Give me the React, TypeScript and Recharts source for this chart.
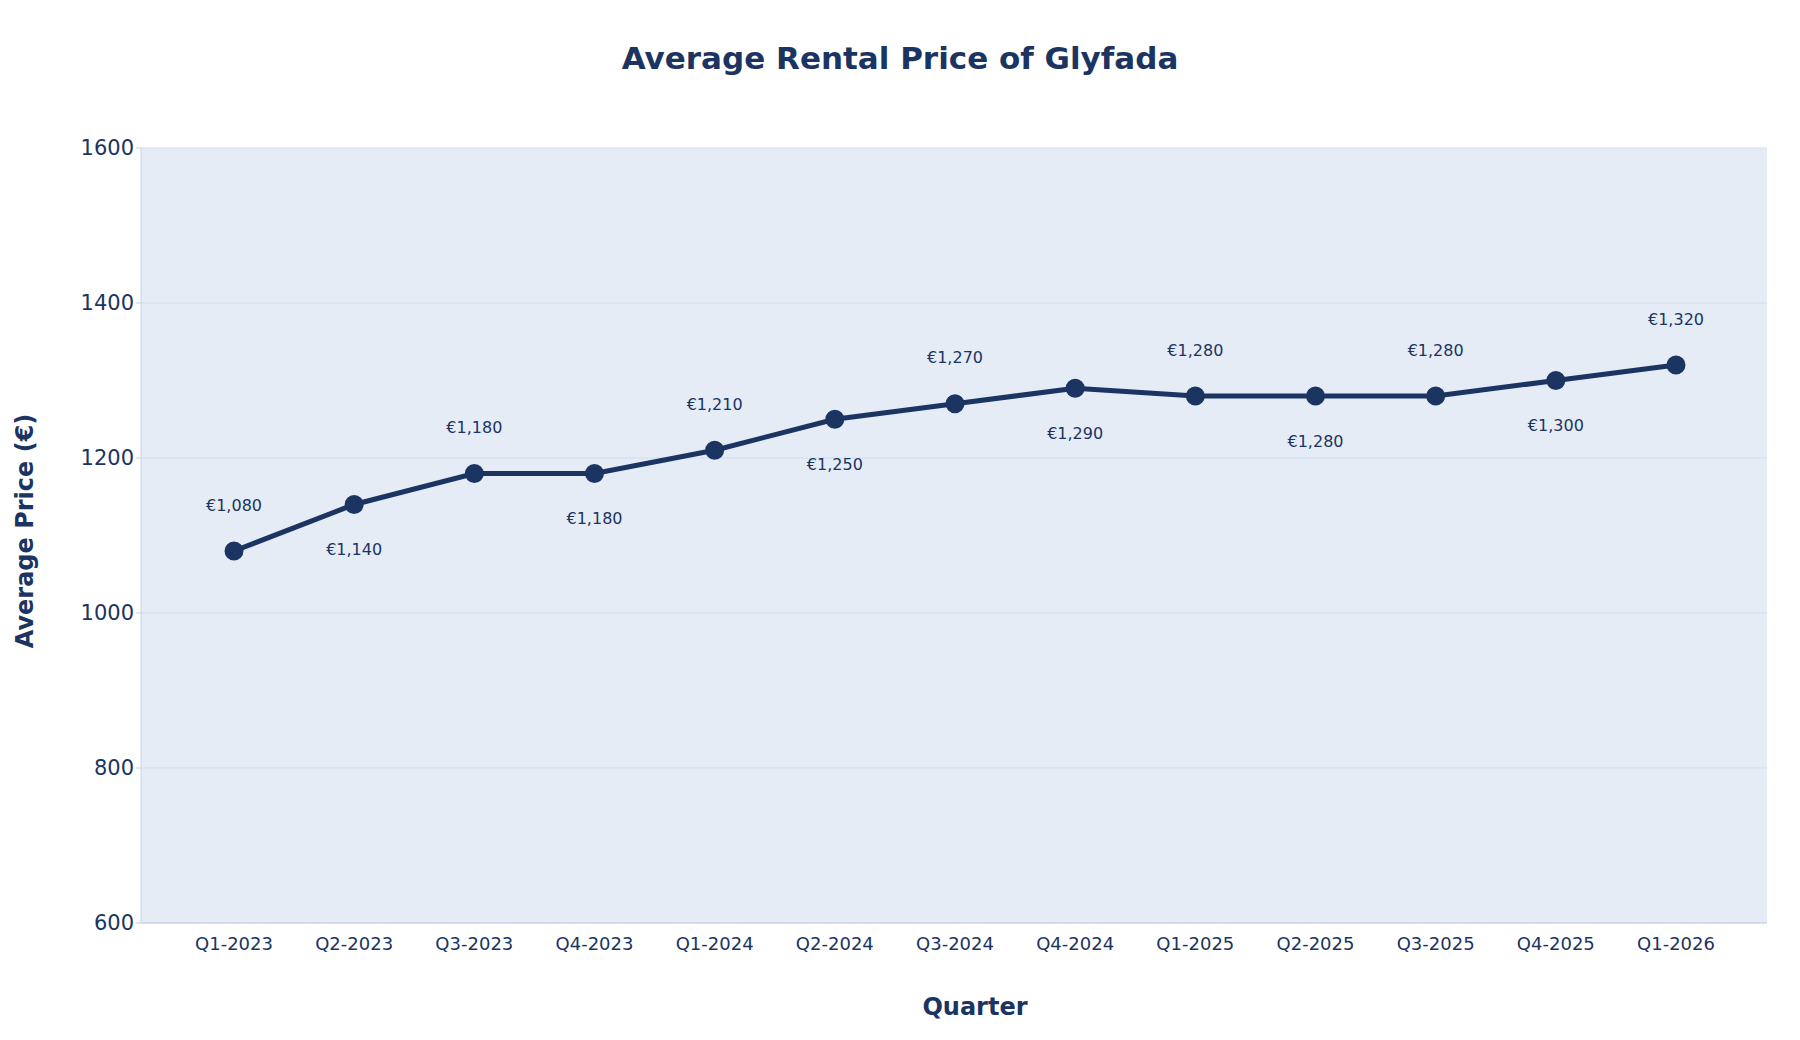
import React from 'react';
import { LineChart, Line, XAxis, YAxis, CartesianGrid, LabelList } from 'recharts';

const quarters = [
  'Q1-2023', 'Q2-2023', 'Q3-2023', 'Q4-2023', 'Q1-2024', 'Q2-2024', 'Q3-2024',
  'Q4-2024', 'Q1-2025', 'Q2-2025', 'Q3-2025', 'Q4-2025', 'Q1-2026',
];
const prices = [1080, 1140, 1180, 1180, 1210, 1250, 1270, 1290, 1280, 1280, 1280, 1300, 1320];
const yTicks = [600, 800, 1000, 1200, 1400, 1600];

const data = quarters.map((q, i) => ({ quarter: q, price: prices[i] }));

const navy = '#1b3461';
const font = '"DejaVu Sans", Verdana, sans-serif';

const PriceLabel = (props: any) => {
  const { x, y, value, index } = props;
  const above = index % 2 === 0;
  return (
    <text
      x={x}
      y={above ? y - 45 : y + 46}
      textAnchor="middle"
      dominantBaseline="middle"
      fontSize={16}
      fontFamily={font}
      fill={navy}
    >
      {'€' + Number(value).toLocaleString('en-US')}
    </text>
  );
};

export default function App() {
  return (
    <div style={{ position: 'absolute', left: 0, top: 0, width: 1800, height: 1040, background: '#fff', fontFamily: font }}>
      <div style={{ position: 'absolute', top: 40, width: 1800, textAlign: 'center', fontSize: 31, fontWeight: 900, color: navy }}>
        Average Rental Price of Glyfada
      </div>
      <LineChart width={1800} height={1040} data={data} margin={{ top: 148, right: 33, bottom: 17, left: 61 }}>
        <CartesianGrid vertical={false} fill="#e5ecf6" stroke="#d3ddef" />
        <XAxis
          dataKey="quarter"
          height={100}
          padding={{ left: 93, right: 91 }}
          tick={{ fill: navy, fontSize: 18, fontFamily: font }}
          tickLine={false}
          axisLine={{ stroke: '#c3d1e8' }}
          tickMargin={8}
        />
        <YAxis
          domain={[600, 1600]}
          ticks={yTicks}
          width={80}
          tick={{ fill: navy, fontSize: 21, fontFamily: font }}
          tickLine={{ stroke: '#c3d1e8' }}
          axisLine={{ stroke: '#c3d1e8' }}
          tickSize={5}
        />
        <Line
          dataKey="price"
          stroke={navy}
          strokeWidth={5}
          dot={{ r: 7, fill: navy, stroke: navy }}
          isAnimationActive={false}
        >
          <LabelList dataKey="price" content={PriceLabel} />
        </Line>
      </LineChart>
      <div style={{ position: 'absolute', top: 993, width: 1800, left: 75, textAlign: 'center', fontSize: 24, fontWeight: 900, color: navy }}>
        Quarter
      </div>
      <div
        style={{
          position: 'absolute', left: 25, top: 531, transform: 'translate(-50%, -50%) rotate(-90deg)',
          whiteSpace: 'nowrap', fontSize: 24, fontWeight: 900, color: navy,
        }}
      >
        Average Price (€)
      </div>
    </div>
  );
}
